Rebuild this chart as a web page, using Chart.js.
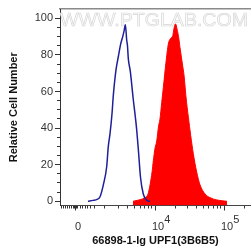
<!DOCTYPE html>
<html><head><meta charset="utf-8">
<script src="https://cdn.jsdelivr.net/npm/chart.js@4/dist/chart.umd.min.js"></script>
<style>html,body{margin:0;padding:0;background:#fff;overflow:hidden}canvas{display:block}</style>
</head><body>
<canvas id="c" width="251" height="249"></canvas>
<script>
// X positions are in display units of the biexponential axis (4 = 10^4, 5 = 10^5)
const blueX = [3.029, 3.101, 3.159, 3.203, 3.251, 3.300, 3.323, 3.348, 3.377, 3.396, 3.435, 3.468, 3.503, 3.532, 3.551, 3.570, 3.590, 3.601, 3.613, 3.642, 3.681, 3.732, 3.761, 3.790, 3.830, 3.880, 3.928];
const blueY = [0, 0.5, 1, 2.5, 9, 19, 30, 37, 48, 58, 72, 79, 86, 90, 93, 96.5, 88, 85, 78, 71, 57, 40, 27, 13, 4, 0.5, 0];
const redX = [3.681, 3.739, 3.797, 3.855, 3.899, 3.928, 3.957, 3.975, 4.000, 4.025, 4.051, 4.072, 4.097, 4.120, 4.159, 4.193, 4.225, 4.257, 4.275, 4.297, 4.323, 4.341, 4.362, 4.401, 4.420, 4.449, 4.483, 4.517, 4.555, 4.604, 4.652, 4.725, 4.797, 4.899, 5.043];
const redY = [0, 0.5, 1, 2, 4, 9, 16, 22, 29, 33, 41, 45, 54, 62, 76, 86, 89, 90.5, 94.5, 97, 93.5, 90, 84, 74, 69, 57, 46, 36, 26, 16, 9, 4, 2, 0.7, 0];

const xMajorTicks = [2.841, 4, 5];
const xMajorLabels = [['', '0'], ['      4', '10'], ['      5', '10']];
const xMinorTicks = [2.638, 2.671, 2.700, 2.729, 2.758, 2.783, 2.812, 2.826, 2.841, 2.855, 2.870, 2.913, 2.952, 2.986, 3.019, 3.058, 3.120,
  3.275, 3.468, 3.604, 3.700, 3.783, 3.845, 3.903, 3.952,
  4.301, 4.477, 4.602, 4.699, 4.778, 4.845, 4.903, 4.954, 5.301];
const yMajorTicks = [0, 20, 40, 60, 80, 100];
const yMinorTicks = [5, 10, 15, 25, 30, 35, 45, 50, 55, 65, 70, 75, 85, 90, 95];

const xTitle = '66898-1-Ig UPF1(3B6B5)';
const yTitle = 'Relative Cell Number';
const watermarkText = 'WWW.PTGLAB.COM';
const seriesNames = ['Isotype control', 'UPF1 (3B6B5)'];

const FONT = "'Liberation Sans', Arial, sans-serif";
const X_MIN = 2.623, X_MAX = 5.391, Y_MIN = -2.3, Y_MAX = 105.1;

const toPts = (xs, ys) => xs.map((x, i) => ({x: x, y: ys[i]}));

const watermark = {
  id: 'watermark',
  beforeDatasetsDraw(chart) {
    const {ctx, chartArea: a} = chart;
    ctx.save();
    ctx.font = '18.5px ' + FONT;
    const w = ctx.measureText(watermarkText).width;
    const cx = (a.left + a.right) / 2 - 1.5;
    const cy = a.top + 11.5;
    ctx.translate(cx, cy);
    ctx.scale(188 / w, 1);
    ctx.textAlign = 'center';
    ctx.textBaseline = 'middle';
    ctx.fillStyle = '#fbfbfb';
    ctx.fillText(watermarkText, 0, 0);
    ctx.strokeStyle = '#d4d4d4';
    ctx.lineWidth = 0.6;
    ctx.strokeText(watermarkText, 0, 0);
    ctx.restore();
  }
};

new Chart(document.getElementById('c'), {
  type: 'line',
  data: {
    datasets: [
      { label: seriesNames[0], data: toPts(blueX, blueY), borderColor: '#1f1f9a', borderWidth: 1.5,
        pointRadius: 0, fill: false, cubicInterpolationMode: 'monotone', xAxisID: 'x', yAxisID: 'y' },
      { label: seriesNames[1], data: toPts(redX, redY), borderColor: '#ff0000', backgroundColor: '#ff0000', borderWidth: 1,
        pointRadius: 0, fill: 'start', cubicInterpolationMode: 'monotone', xAxisID: 'x', yAxisID: 'y' }
    ]
  },
  options: {
    responsive: false, animation: false, devicePixelRatio: 1,
    layout: { padding: { top: 9, right: 0, left: 0, bottom: 0 } },
    plugins: { legend: { display: false }, tooltip: { enabled: false } },
    scales: {
      x: {
        type: 'linear', position: 'bottom', weight: 1, min: X_MIN, max: X_MAX,
        afterBuildTicks: s => { s.ticks = xMajorTicks.map(v => ({ value: v })); },
        afterFit: s => { s.height = 43.5; },
        grid: { display: true, drawOnChartArea: false, drawTicks: true, tickLength: 5, color: '#333', tickColor: '#333' },
        border: { display: true, color: '#444', width: 1 },
        ticks: {
          autoSkip: false, maxRotation: 0, padding: 5.1, labelOffset: 3, color: '#333',
          font: { family: FONT, size: 11, lineHeight: 0.71 },
          callback: (v, i) => xMajorLabels[i]
        },
        title: { display: true, text: xTitle, color: '#111', font: { family: FONT, size: 11, weight: 'bold' }, padding: { top: 0, bottom: 1 } }
      },
      xMinor: {
        type: 'linear', position: 'bottom', weight: 0, min: X_MIN, max: X_MAX,
        afterBuildTicks: s => { s.ticks = xMinorTicks.map(v => ({ value: v })); },
        afterFit: s => { s.height = 0; },
        grid: { display: true, drawOnChartArea: false, drawTicks: true, tickLength: 3, color: '#333', tickColor: '#333' },
        border: { display: false },
        ticks: { display: false, autoSkip: false }
      },
      xTop: {
        type: 'linear', position: 'top', min: 0, max: 1,
        afterFit: s => { s.height = 0; },
        grid: { display: false },
        border: { display: true, color: '#8a8a8a', width: 1.5 },
        ticks: { display: false }
      },
      y: {
        type: 'linear', position: 'left', weight: 1, min: Y_MIN, max: Y_MAX,
        afterBuildTicks: s => { s.ticks = yMajorTicks.map(v => ({ value: v })); },
        afterFit: s => { s.width = 60; },
        grid: { display: true, drawOnChartArea: false, drawTicks: true, tickLength: 5, color: '#333', tickColor: '#333' },
        border: { display: true, color: '#333', width: 1 },
        ticks: { autoSkip: false, padding: 2, color: '#333', font: { family: FONT, size: 11 } },
        title: { display: true, text: yTitle, color: '#111', font: { family: FONT, size: 11, weight: 'bold' }, padding: { top: 7.4, bottom: 0 } }
      },
      yMinor: {
        type: 'linear', position: 'left', weight: 0, min: Y_MIN, max: Y_MAX,
        afterBuildTicks: s => { s.ticks = yMinorTicks.map(v => ({ value: v })); },
        afterFit: s => { s.width = 0; },
        grid: { display: true, drawOnChartArea: false, drawTicks: true, tickLength: 3, color: '#333', tickColor: '#333' },
        border: { display: false },
        ticks: { display: false, autoSkip: false }
      }
    }
  },
  plugins: [watermark]
});
</script>
</body></html>
